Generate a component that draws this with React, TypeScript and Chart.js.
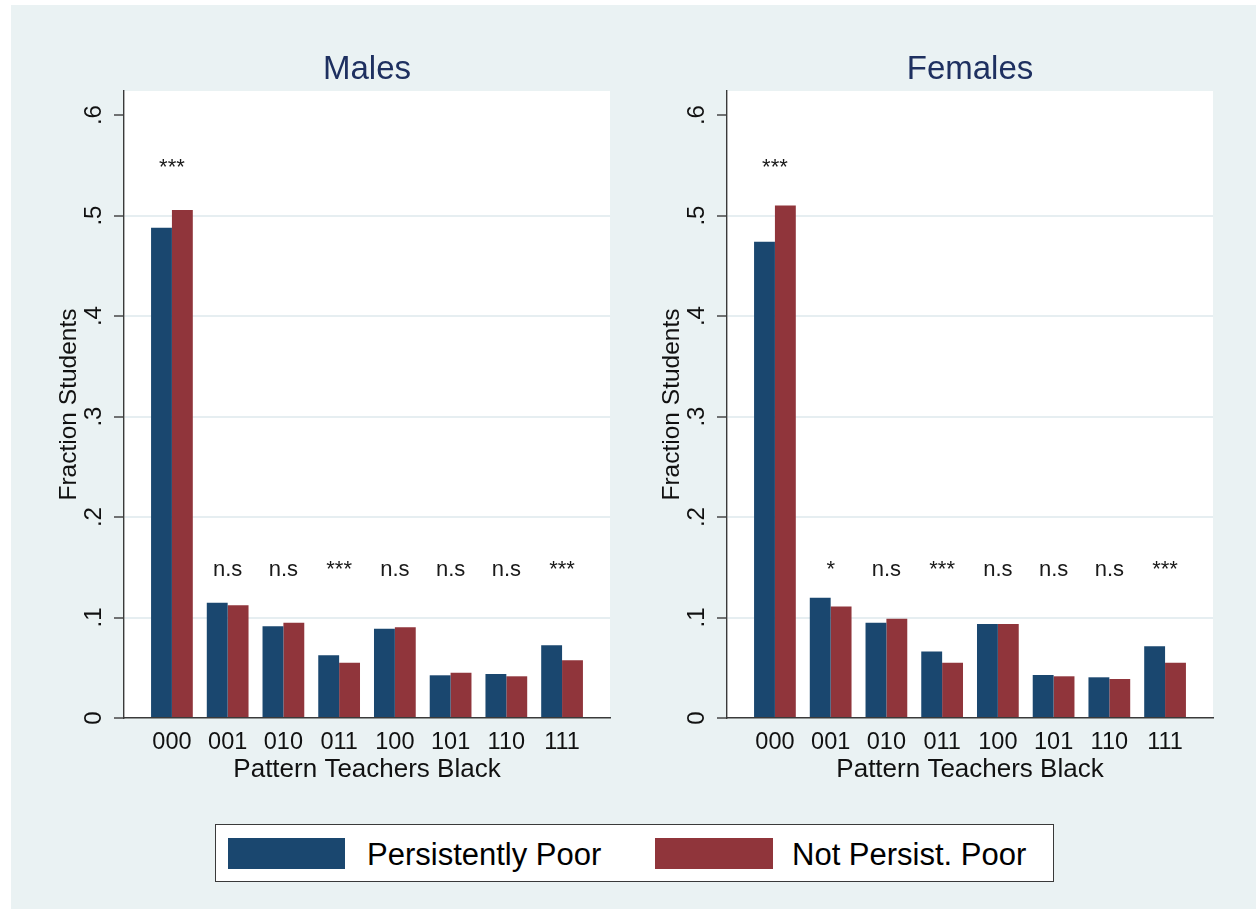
import React, { useEffect, useRef } from "react";
import { Chart, registerables } from "chart.js";

Chart.register(...registerables);

// ---------- data ----------
const PATTERNS = ["000", "001", "010", "011", "100", "101", "110", "111"];
const SERIES = ["Persistently Poor", "Not Persist. Poor"];

const MALES_PERSISTENT = [0.488, 0.1147, 0.0912, 0.0624, 0.0889, 0.0425, 0.0438, 0.0723];
const MALES_NOT_PERSISTENT = [0.5055, 0.1121, 0.0949, 0.055, 0.0902, 0.0451, 0.0415, 0.0574];
const FEMALES_PERSISTENT = [0.474, 0.1197, 0.0949, 0.0663, 0.0935, 0.0428, 0.0405, 0.0713];
const FEMALES_NOT_PERSISTENT = [0.51, 0.111, 0.0988, 0.055, 0.0935, 0.0415, 0.0388, 0.055];

const MALES_SIG = ["***", "n.s", "n.s", "***", "n.s", "n.s", "n.s", "***"];
const FEMALES_SIG = ["***", "*", "n.s", "***", "n.s", "n.s", "n.s", "***"];
// value (y units) at which each significance label sits
const SIG_LEVEL = [0.541, 0.141, 0.141, 0.141, 0.141, 0.141, 0.141, 0.141];

const Y_TICKS = [0, 0.1, 0.2, 0.3, 0.4, 0.5, 0.6];
const Y_MAX = 0.624;

// ---------- styles ----------
const FONT = "'Liberation Sans', Arial, Helvetica, sans-serif";
const NAVY = "#1a476f";
const MAROON = "#90353b";
const BG = "#eaf2f3";
const GRID = "#e6eef1";
const AXIS = "#3a3a3a";
const TITLE_COLOR = "#1e3060";

const decorPlugin = {
  id: "panelDecor",
  beforeDraw(chart: any) {
    const { ctx, chartArea: a } = chart;
    ctx.save();
    ctx.fillStyle = "#ffffff";
    ctx.fillRect(a.left, a.top, a.right - a.left, a.bottom - a.top);
    ctx.restore();
  },
  afterDatasetsDraw(chart: any, _args: any, opts: any) {
    const { ctx } = chart;
    const xs = chart.scales.x;
    const ys = chart.scales.y;
    ctx.save();
    ctx.font = `22px ${FONT}`;
    ctx.fillStyle = "#1a1a1a";
    ctx.textAlign = "center";
    ctx.textBaseline = "alphabetic";
    (opts.sig as string[]).forEach((s, i) => {
      ctx.fillText(s, xs.getPixelForValue(i), ys.getPixelForValue(SIG_LEVEL[i]));
    });
    ctx.restore();
  },
  afterDraw(chart: any, _args: any, opts: any) {
    const { ctx, chartArea: a } = chart;
    ctx.save();
    ctx.font = `33px ${FONT}`;
    ctx.fillStyle = TITLE_COLOR;
    ctx.textAlign = "center";
    ctx.textBaseline = "alphabetic";
    ctx.fillText(opts.title, (a.left + a.right) / 2, 79.3);
    ctx.restore();
  },
};

function fmtY(v: number) {
  if (Math.abs(v) < 1e-9) return "0";
  return "." + Math.round(v * 10);
}

function makeConfig(title: string, persistent: number[], notPersistent: number[], sig: string[]): any {
  return {
    type: "bar",
    data: {
      datasets: [
        {
          label: SERIES[0],
          data: persistent.map((v, i) => ({ x: i, y: v })),
          backgroundColor: NAVY,
          borderWidth: 0,
          categoryPercentage: 0.749,
          barPercentage: 1,
        },
        {
          label: SERIES[1],
          data: notPersistent.map((v, i) => ({ x: i, y: v })),
          backgroundColor: MAROON,
          borderWidth: 0,
          categoryPercentage: 0.749,
          barPercentage: 1,
        },
      ],
    },
    options: {
      responsive: false,
      animation: false,
      devicePixelRatio: 1,
      layout: { padding: { left: 0, right: 30, top: 91, bottom: 2 } },
      plugins: {
        legend: { display: false },
        tooltip: { enabled: false },
        title: { display: false },
        panelDecor: { title, sig },
      },
      scales: {
        x: {
          type: "linear",
          min: -0.86,
          max: 7.86,
          offset: false,
          grid: { display: false, drawTicks: false, offset: false },
          border: { display: true, color: AXIS, width: 1.4 },
          afterBuildTicks: (s: any) => {
            s.ticks = PATTERNS.map((_, i) => ({ value: i }));
          },
          afterFit: (s: any) => {
            s.height = 80;
          },
          ticks: {
            autoSkip: false,
            minRotation: 0,
            maxRotation: 0,
            padding: 10.5,
            color: "#111111",
            font: { family: FONT, size: 23.5 },
            callback: (v: any) => PATTERNS[Math.round(Number(v))] ?? "",
          },
          title: {
            display: true,
            text: "Pattern Teachers Black",
            color: "#111111",
            font: { family: FONT, size: 26 },
            padding: { top: 0, bottom: 12.5 },
          },
        },
        y: {
          min: 0,
          max: Y_MAX,
          afterBuildTicks: (s: any) => {
            s.ticks = Y_TICKS.map((v) => ({ value: v }));
          },
          afterFit: (s: any) => {
            s.width = 124;
          },
          grid: {
            color: (c: any) =>
              c.tick && c.tick.value > 0.05 && c.tick.value < 0.55 ? GRID : "rgba(0,0,0,0)",
            lineWidth: 2,
            tickLength: 10,
            tickColor: AXIS,
            tickWidth: 1.4,
          },
          border: { display: true, color: AXIS, width: 1.4 },
          ticks: {
            autoSkip: false,
            minRotation: 90,
            maxRotation: 90,
            crossAlign: "center",
            padding: 9.5,
            color: "#111111",
            font: { family: FONT, size: 24 },
            callback: (v: any) => fmtY(Number(v)),
          },
          title: {
            display: true,
            text: "Fraction Students",
            color: "#111111",
            font: { family: FONT, size: 24.5 },
            padding: { top: 54.3, bottom: 0 },
          },
        },
      },
    },
    plugins: [decorPlugin],
  };
}

function Panel(props: {
  left: number;
  title: string;
  persistent: number[];
  notPersistent: number[];
  sig: string[];
}) {
  const ref = useRef<HTMLCanvasElement | null>(null);
  useEffect(() => {
    if (!ref.current) return;
    const chart = new Chart(
      ref.current,
      makeConfig(props.title, props.persistent, props.notPersistent, props.sig)
    );
    return () => chart.destroy();
  }, []);
  return (
    <canvas
      ref={ref}
      width={640}
      height={800}
      style={{ position: "absolute", left: props.left, top: 0, width: 640, height: 800 }}
    />
  );
}

export default function App() {
  const textStyle: React.CSSProperties = {
    position: "absolute",
    fontFamily: FONT,
    fontSize: 31,
    lineHeight: "30px",
    color: "#000",
    whiteSpace: "nowrap",
  };
  return (
    <div
      style={{
        position: "absolute",
        left: 0,
        top: 0,
        width: 1256,
        height: 909,
        overflow: "hidden",
        background: "#ffffff",
      }}
    >
      <div style={{ position: "absolute", left: 11, top: 5, width: 1245, height: 904, background: BG }} />
      <Panel
        left={0}
        title="Males"
        persistent={MALES_PERSISTENT}
        notPersistent={MALES_NOT_PERSISTENT}
        sig={MALES_SIG}
      />
      <Panel
        left={603}
        title="Females"
        persistent={FEMALES_PERSISTENT}
        notPersistent={FEMALES_NOT_PERSISTENT}
        sig={FEMALES_SIG}
      />
      <div
        style={{
          position: "absolute",
          left: 215,
          top: 824,
          width: 839,
          height: 58,
          background: "#ffffff",
          border: `1px solid ${AXIS}`,
          boxSizing: "border-box",
        }}
      >
        <div style={{ position: "absolute", left: 12, top: 13, width: 117, height: 31, background: NAVY }} />
        <div style={{ ...textStyle, left: 151, top: 14.5 }}>{SERIES[0]}</div>
        <div style={{ position: "absolute", left: 439, top: 13, width: 118, height: 31, background: MAROON }} />
        <div style={{ ...textStyle, left: 576, top: 14.5 }}>{SERIES[1]}</div>
      </div>
    </div>
  );
}
